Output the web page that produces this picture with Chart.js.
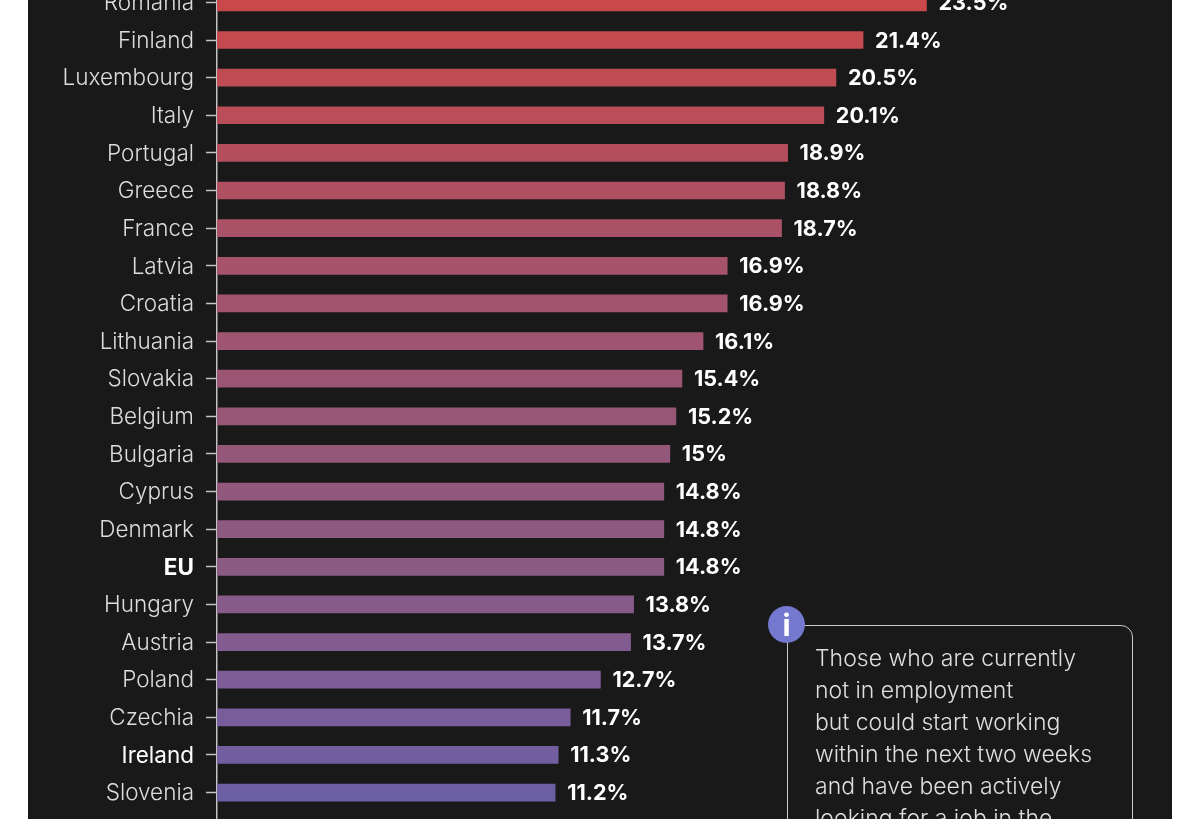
<!DOCTYPE html>
<html>
<head>
<meta charset="utf-8">
<title>Unemployment chart</title>
<script src="https://cdn.jsdelivr.net/npm/chart.js@4/dist/chart.umd.min.js"></script>
<style>
  html, body { margin: 0; padding: 0; width: 1200px; height: 819px; overflow: hidden; background: #fff; }
  #panel { position: absolute; left: 28px; top: 0; width: 1144px; height: 819px; background: #191919; }
  #chart { position: absolute; left: 0; top: -30px; }
  #note { position: absolute; left: 787px; top: 625px; width: 346px; height: 240px; box-sizing: border-box;
    border: 1.5px solid #c8c8c8; border-radius: 12px; padding: 16px 0 0 27px;
    font: 300 23px/32px Inter, sans-serif; color: #dedede; white-space: nowrap; }
  #info { position: absolute; left: 768px; top: 606px; width: 37px; height: 37px; border-radius: 50%;
    background: #7478cf; color: #fff; font: 700 30px/38px Inter, sans-serif; text-align: center; }
</style>
</head>
<body>
<div id="panel"></div>
<canvas id="chart" width="1200" height="900"></canvas>
<div id="note">Those who are currently<br>not in employment<br>but could start working<br>within the next two weeks<br>and have been actively<br>looking for a job in the</div>
<div id="info">i</div>
<script>
  // last, empty row stands for the next country, cropped off by the picture
  var categories = ['Romania', 'Finland', 'Luxembourg', 'Italy', 'Portugal', 'Greece', 'France', 'Latvia',
    'Croatia', 'Lithuania', 'Slovakia', 'Belgium', 'Bulgaria', 'Cyprus', 'Denmark', 'EU', 'Hungary',
    'Austria', 'Poland', 'Czechia', 'Ireland', 'Slovenia', ''];
  var values = [23.5, 21.4, 20.5, 20.1, 18.9, 18.8, 18.7, 16.9, 16.9, 16.1, 15.4, 15.2, 15, 14.8, 14.8, 14.8,
    13.8, 13.7, 12.7, 11.7, 11.3, 11.2, null];

  // value labels at the end of each bar
  var valueLabels = {
    id: 'valueLabels',
    afterDatasetsDraw: function (chart) {
      var ctx = chart.ctx;
      ctx.save();
      ctx.font = '700 21.6px Inter, sans-serif';
      ctx.fillStyle = '#ffffff';
      ctx.textBaseline = 'middle';
      chart.getDatasetMeta(0).data.forEach(function (bar, i) {
        if (values[i] === null) {
          return;
        }
        ctx.fillText(values[i] + '%', bar.x + 12, bar.y + 1);
      });
      ctx.restore();
    }
  };

  function barGradient(context) {
    var area = context.chart.chartArea;
    if (!area) {
      return '#8a5a80';
    }
    var g = context.chart.ctx.createLinearGradient(0, area.top, 0, area.bottom);
    g.addColorStop(0, '#cc4848');
    g.addColorStop(0.3, '#a85268');
    g.addColorStop(0.67, '#8a5a82');
    g.addColorStop(0.8, '#7f5c96');
    g.addColorStop(1, '#6360aa');
    return g;
  }

  new Chart(document.getElementById('chart').getContext('2d'), {
    type: 'bar',
    data: {
      labels: categories,
      datasets: [{
        data: values,
        backgroundColor: barGradient,
        barThickness: 17
      }]
    },
    options: {
      indexAxis: 'y',
      responsive: false,
      animation: false,
      events: [],
      layout: { padding: { top: 13.6, bottom: 21, right: 77.3 } },
      plugins: { legend: { display: false }, tooltip: { enabled: false } },
      scales: {
        x: { display: false, min: 0, max: 30 },
        y: {
          afterFit: function (scale) {
            scale.width = 217;
            scale.paddingTop = 0;
            scale.paddingBottom = 0;
          },
          border: { color: '#c4c4c4', width: 1.5 },
          grid: { offset: false, drawOnChartArea: false, tickLength: 11, tickColor: '#c4c4c4', tickWidth: 1.5 },
          ticks: {
            autoSkip: false,
            padding: 12,
            labelOffset: 1,
            font: function (c) {
              var label = categories[c.index];
              return {
                family: 'Inter, sans-serif',
                size: 22.5,
                weight: label === 'EU' ? '700' : (label === 'Ireland' ? '400' : '300')
              };
            },
            color: function (c) {
              var label = categories[c.index];
              return (label === 'EU' || label === 'Ireland') ? '#ffffff' : '#dddddd';
            }
          }
        }
      }
    },
    plugins: [valueLabels]
  });
</script>
</body>
</html>
